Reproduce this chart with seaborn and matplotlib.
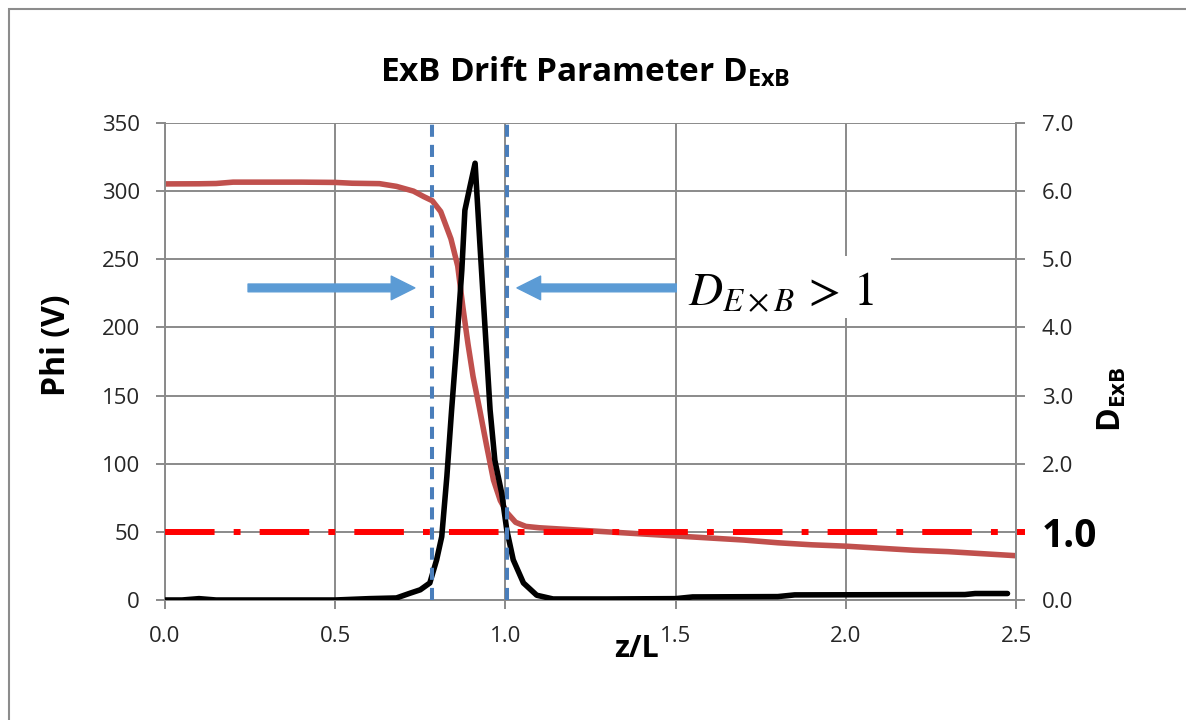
import matplotlib
matplotlib.use("Agg")
import matplotlib.pyplot as plt
import pandas as pd
import seaborn as sns
from matplotlib.patches import Rectangle

# ---------------- data ----------------
# plasma potential along the channel
phi_z = [0.00, 0.10, 0.15, 0.20, 0.30, 0.40, 0.50, 0.55, 0.63, 0.68, 0.73, 0.76,
         0.785, 0.81, 0.84, 0.86, 0.875, 0.89, 0.905, 0.925, 0.945, 0.965, 0.985,
         1.005, 1.03, 1.06, 1.10, 1.20, 1.30, 1.40, 1.50, 1.60, 1.70, 1.80, 1.90,
         2.00, 2.10, 2.20, 2.30, 2.40, 2.50]
phi_v = [305.3, 305.4, 305.6, 306.6, 306.6, 306.6, 306.4, 305.8, 305.5, 303.5, 300.0, 296.0,
         293.0, 285.0, 265.0, 245.0, 215.0, 188.0, 164.0, 139.0, 113.0, 88.0, 73.0,
         64.0, 57.0, 54.0, 53.0, 51.5, 50.0, 48.5, 47.0, 45.5, 44.0, 42.0, 40.5,
         39.5, 38.0, 36.5, 35.5, 34.0, 32.5]

# ExB drift parameter
d_z = [0.00, 0.05, 0.10, 0.15, 0.30, 0.50, 0.60, 0.68, 0.72, 0.75, 0.778, 0.798,
       0.813, 0.828, 0.842, 0.857, 0.872, 0.881, 0.896, 0.911, 0.925, 0.940, 0.955,
       0.969, 0.989, 1.004, 1.023, 1.053, 1.092, 1.14, 1.30, 1.50, 1.55, 1.80, 1.85,
       2.35, 2.38, 2.475]
d_v = [0.00, 0.00, 0.02, 0.00, 0.00, 0.00, 0.02, 0.03, 0.10, 0.15, 0.25, 0.59,
       0.93, 1.81, 2.79, 3.77, 4.84, 5.72, 6.07, 6.41, 5.23, 4.01, 2.79,
       2.05, 1.57, 1.03, 0.59, 0.25, 0.07, 0.015, 0.015, 0.02, 0.045, 0.05, 0.075,
       0.08, 0.095, 0.095]

x_ticks = [0.0, 0.5, 1.0, 1.5, 2.0, 2.5]
phi_ticks = [0, 50, 100, 150, 200, 250, 300, 350]
d_ticks = [0, 1, 2, 3, 4, 5, 6, 7]

d_threshold = 1.0
d_region = [0.785, 1.005]       # z/L bounds of the D > 1 zone

# ---------------- style ----------------
sns.set_theme(style="white")
plt.rcParams["font.family"] = ["Open Sans", "DejaVu Sans"]
plt.rcParams["mathtext.fontset"] = "custom"
plt.rcParams["mathtext.rm"] = "Open Sans"
plt.rcParams["mathtext.bf"] = "Open Sans:bold"
plt.rcParams["mathtext.it"] = "Open Sans:italic"

GRID = "#8a8a8a"
TXT = "#262626"

W, H = 1186, 720
fig = plt.figure(figsize=(W / 100, H / 100), dpi=100)
fig.patch.set_facecolor("white")
ax = fig.add_axes([165 / W, 1 - 600 / H, 851 / W, 477 / H])
ax2 = ax.twinx()

phi_df = pd.DataFrame({"z": phi_z, "phi": phi_v})
d_df = pd.DataFrame({"z": d_z, "D": d_v})

sns.lineplot(data=phi_df, x="z", y="phi", ax=ax, color="#C0504D", lw=4.0,
             estimator=None, solid_joinstyle="round", solid_capstyle="butt", zorder=2)

# threshold line D = 1
ax2.axhline(d_threshold, xmin=0, xmax=1.011, color="#FF0000", lw=4.3,
            ls=(0, (8.3, 3.2, 1.15, 3.2)), dash_capstyle="butt", clip_on=False, zorder=2)

sns.lineplot(data=d_df, x="z", y="D", ax=ax2, color="black", lw=4.0,
             estimator=None, solid_joinstyle="round", solid_capstyle="round", zorder=3)

for zb in d_region:
    ax2.axvline(zb, color="#4A7EBB", lw=2.9, ls=(0, (3.0, 2.0)),
                dash_capstyle="butt", zorder=4)

# axes limits / ticks
ax.set_xlim(0, 2.5)
ax.set_ylim(0, 350)
ax2.set_ylim(0, 7)
ax.set_xticks(x_ticks)
ax.set_xticklabels([f"{v:.1f}" for v in x_ticks])
ax.set_yticks(phi_ticks)
ax.set_yticklabels([str(v) for v in phi_ticks])
ax2.set_yticks(d_ticks)
ax2.set_yticklabels([f"{v:.1f}" for v in d_ticks])

ax.grid(True, color=GRID, lw=1.4)
ax.set_axisbelow(True)
ax2.grid(False)

for s in ["top", "right"]:
    ax.spines[s].set_visible(False)
for s in ["top", "left", "bottom"]:
    ax2.spines[s].set_visible(False)
for s in ["left", "bottom"]:
    ax.spines[s].set_color(GRID)
    ax.spines[s].set_linewidth(1.4)
ax2.spines["right"].set_color(GRID)
ax2.spines["right"].set_linewidth(1.4)

ax.tick_params(axis="y", direction="out", length=6.5, width=1.4, color=GRID,
               labelsize=16, labelcolor=TXT, pad=11.5, left=True)
ax.tick_params(axis="x", direction="out", length=6.5, width=1.4, color=GRID,
               labelsize=16, labelcolor=TXT, pad=12.5, bottom=True)
ax2.tick_params(axis="y", direction="out", length=6.5, width=1.4, color=GRID,
                labelsize=16, labelcolor=TXT, pad=12, right=True)
for lbl in ax2.get_yticklabels():
    if lbl.get_text() == "1.0":
        lbl.set_fontsize(28)
        lbl.set_fontweight("bold")
        lbl.set_color("black")

# axis titles
ax.set_ylabel("Phi (V)", fontsize=23, fontweight="bold", color="black",
              va="center", ha="center")
ax.yaxis.set_label_coords(-0.127, 0.535)
ax.set_xlabel("z/L", fontsize=22, fontweight="bold", color="black", va="center", ha="center")
ax.xaxis.set_label_coords(0.5535, -0.1027)
ax2.set_ylabel(r"D$_{\mathbf{ExB}}$", fontsize=23, fontweight="bold", color="black",
               va="center", ha="center", rotation=90)
ax2.yaxis.set_label_coords(1.1128, 0.4214)

# arrows pointing at the D > 1 zone boundaries
arrow_kw = dict(arrowstyle="simple,head_length=0.85,head_width=0.85,tail_width=0.28",
                color="#5B9BD5", shrinkA=0, shrinkB=0, mutation_scale=20)
ax.annotate("", xy=(0.734, 229), xytext=(0.244, 229), arrowprops=arrow_kw, zorder=3)
ax.annotate("", xy=(1.034, 229), xytext=(1.515, 229), arrowprops=arrow_kw, zorder=3)

# label box
ax.add_patch(Rectangle((1.504, 206.9), 0.629, 45.5, facecolor="white",
                       edgecolor="none", zorder=3))
ax.text(1.536, 216.5, r"$D_{E\times B}\,>\,1$", math_fontfamily="stix", fontsize=34,
        ha="left", va="baseline", color="black", zorder=4)

# chart title
fig.text(585.5 / W, 1 - 81.7 / H, r"ExB Drift Parameter D$_{\mathbf{ExB}}$",
         ha="center", va="baseline", fontsize=24, fontweight="bold", color="black")

# chart frame
fig.add_artist(Rectangle((9 / W, -0.1), 1.2, 1.1 - 9 / H, transform=fig.transFigure,
                         fill=False, edgecolor="#8c8c8c", lw=1.5, clip_on=False))

fig.savefig("out.png", dpi=100)
